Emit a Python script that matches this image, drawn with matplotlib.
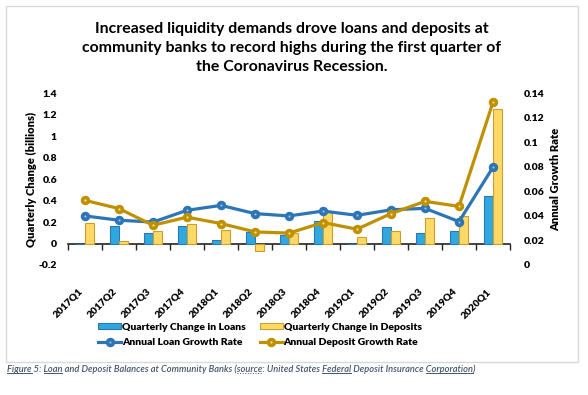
import matplotlib.pyplot as plt
import matplotlib.patches as mpatches
from matplotlib.lines import Line2D
import numpy as np

plt.rcParams['font.family'] = ['Lato', 'DejaVu Sans']

quarters = ['2017Q1', '2017Q2', '2017Q3', '2017Q4', '2018Q1', '2018Q2', '2018Q3',
            '2018Q4', '2019Q1', '2019Q2', '2019Q3', '2019Q4', '2020Q1']
loan_change = [-0.005, 0.165, 0.096, 0.165, 0.03, 0.11, 0.084,
               0.214, -0.005, 0.155, 0.10, 0.118, 0.447]
deposit_change = [0.19, 0.02, 0.115, 0.183, 0.13, -0.068, 0.10,
                  0.29, 0.059, 0.115, 0.239, 0.26, 1.25]
loan_rate = [0.040, 0.0365, 0.035, 0.0446, 0.0486, 0.0419, 0.040,
             0.044, 0.0405, 0.045, 0.0462, 0.0354, 0.0797]
deposit_rate = [0.0527, 0.046, 0.0324, 0.039, 0.0338, 0.027, 0.026,
                0.0346, 0.0292, 0.0419, 0.0519, 0.0478, 0.1327]

left_ticks = [-0.2, 0, 0.2, 0.4, 0.6, 0.8, 1, 1.2, 1.4]
right_ticks = [0, 0.02, 0.04, 0.06, 0.08, 0.1, 0.12, 0.14]

title = ('Increased liquidity demands drove loans and deposits at\n'
         'community banks to record highs during the first quarter of\n'
         'the Coronavirus Recession.')
caption = ('Figure 5: Loan and Deposit Balances at Community Banks '
           '(source: United States Federal Deposit Insurance Corporation)')

LOAN_BAR, LOAN_EDGE = '#2FA8E0', '#2E75B6'
DEP_BAR, DEP_EDGE = '#FFD966', '#C9A02E'
LOAN_LINE, DEP_LINE = '#2E75B6', '#BF9000'
HEAVY = 800
CAP_SIZE = 6.7

W, H = 588, 395
fig = plt.figure(figsize=(W / 100, H / 100), dpi=100)
ax = fig.add_axes([68 / W, 1 - 265 / H, (510 - 68) / W, (265 - 93.3) / H])

x = np.arange(len(quarters))
bw = 0.26
ax.bar(x - bw / 2, loan_change, bw, color=LOAN_BAR, edgecolor=LOAN_EDGE, linewidth=0.8)
ax.bar(x + bw / 2, deposit_change, bw, color=DEP_BAR, edgecolor=DEP_EDGE, linewidth=0.8)
ax.set_xlim(-0.5, len(quarters) - 0.5)
ax.set_ylim(-0.2, 1.4)
ax.set_yticks(left_ticks)
ax.set_yticklabels([f'{v:g}' for v in left_ticks], fontsize=7.5, fontweight=HEAVY)
ax.set_xticks(x)
ax.set_xticklabels(quarters, rotation=45, ha='right', va='top', fontsize=7.3,
                   fontweight=HEAVY)
ax.tick_params(axis='both', length=0)
ax.tick_params(axis='x', pad=16)
ax.tick_params(axis='y', pad=8)
for s in ax.spines.values():
    s.set_visible(False)
ax.set_ylabel('Quarterly Change (billions)', fontsize=8, fontweight=HEAVY, labelpad=1)

# zero line with category-boundary ticks
sec = ax.secondary_xaxis(0.2 / 1.6)
sec.set_xticks(np.arange(-0.5, len(quarters), 1.0))
sec.tick_params(axis='x', length=4, width=1, labelbottom=False, color='#222222')
sec.spines['bottom'].set_color('#222222')
sec.spines['bottom'].set_linewidth(1.2)

mk = dict(marker='o', ms=4.2, mew=2.6)
ax2 = ax.twinx()
ax2.plot(x, loan_rate, color=LOAN_LINE, lw=2.3, mec=LOAN_LINE, mfc='#9DC3E6', **mk)
ax2.plot(x, deposit_rate, color=DEP_LINE, lw=2.3, mec=DEP_LINE, mfc='#FFE699', **mk)
ax2.set_ylim(0, 0.14)
ax2.set_yticks(right_ticks)
ax2.set_yticklabels([f'{v:g}' for v in right_ticks], fontsize=7.5, fontweight=HEAVY)
ax2.tick_params(axis='y', length=0, pad=10)
for s in ax2.spines.values():
    s.set_visible(False)
ax2.set_ylabel('Annual Growth Rate', fontsize=8, fontweight=HEAVY, labelpad=4)

fig.text(292 / W, 1 - 48 / H, title, ha='center', va='center', fontsize=11.4,
         fontweight='bold', linespacing=1.45)

handles = [
    mpatches.Patch(facecolor=LOAN_BAR, edgecolor=LOAN_EDGE, linewidth=0.8),
    Line2D([], [], color=LOAN_LINE, lw=2.3, mec=LOAN_LINE, mfc='#9DC3E6', **mk),
    mpatches.Patch(facecolor=DEP_BAR, edgecolor=DEP_EDGE, linewidth=0.8),
    Line2D([], [], color=DEP_LINE, lw=2.3, mec=DEP_LINE, mfc='#FFE699', **mk),
]
labels = ['Quarterly Change in Loans', 'Annual Loan Growth Rate',
          'Quarterly Change in Deposits', 'Annual Deposit Growth Rate']
fig.legend(handles, labels, ncol=2, loc='center', bbox_to_anchor=(260 / W, 1 - 335 / H),
           frameon=False, prop={'size': 7.5, 'weight': HEAVY}, handlelength=2.2,
           handleheight=0.55, handletextpad=0.1, columnspacing=1.3, labelspacing=0.6)

# outer frame of the chart
fig.patches.append(mpatches.Rectangle((6 / W, 1 - 362 / H), 572 / W, 356 / H,
                                      transform=fig.transFigure, fill=False,
                                      edgecolor='#D9D9D9', linewidth=1))

cap = fig.text(7 / W, 1 - 369 / H, caption, ha='left', va='center', fontsize=CAP_SIZE,
               style='italic', fontweight=600, color='#44546A')

# underline some words of the caption
renderer = fig.canvas.get_renderer()
cap_box = cap.get_window_extent(renderer)
for word in ['Figure', 'Loan', 'source', 'Federal', 'Corporation']:
    start = caption.index(word)
    pre = fig.text(0, 0, caption[:start], fontsize=CAP_SIZE, style='italic', fontweight=600)
    full = fig.text(0, 0, caption[:start + len(word)], fontsize=CAP_SIZE, style='italic',
                    fontweight=600)
    x0 = cap_box.x0 + (pre.get_window_extent(renderer).width if start else 0)
    x1 = cap_box.x0 + full.get_window_extent(renderer).width
    pre.remove()
    full.remove()
    yline = cap_box.y0 + 1
    ls = ':' if word == 'source' else '-'
    fig.add_artist(Line2D([x0 / W, x1 / W], [yline / H, yline / H],
                          transform=fig.transFigure, color='#44546A', lw=0.7, ls=ls))

fig.savefig('out.png', dpi=100)
